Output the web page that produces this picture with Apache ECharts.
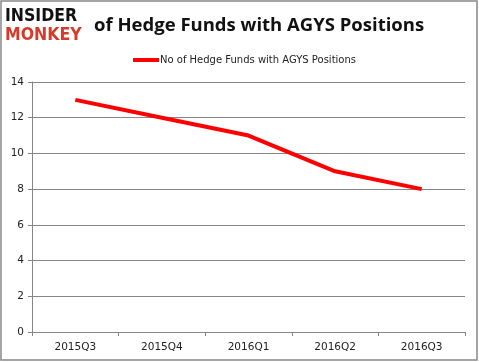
<!DOCTYPE html>
<html><head><meta charset="utf-8">
<script src="https://cdn.jsdelivr.net/npm/echarts@6/dist/echarts.min.js"></script>
<style>html,body{margin:0;padding:0;background:#fff}#c{width:479px;height:362px}</style>
</head><body><div id="c"></div>
<script>
const categories = ['2015Q3','2015Q4','2016Q1','2016Q2','2016Q3'];
const values = [13, 12, 11, 9, 8];
const seriesName = 'No of Hedge Funds with AGYS Positions';
const titleText = 'of Hedge Funds with AGYS Positions';

const chart = echarts.init(document.getElementById('c'));
chart.setOption({
  animation: false,
  backgroundColor: '#fff',
  title: {
    text: titleText, left: 89, top: 11,
    textStyle: {fontFamily: 'Open Sans', fontWeight: 'bold', fontSize: 18.5, color: '#111'}
  },
  legend: {
    data: [seriesName], left: 128, top: 50, itemWidth: 26, itemHeight: 4, itemGap: 2,
    icon: 'rect',
    textStyle: {fontFamily: 'DejaVu Sans', fontSize: 10, color: '#222', padding: [0,0,0,-4]}
  },
  grid: {left: 32, right: 14, top: 82, bottom: 30, containLabel: false},
  xAxis: {
    type: 'category', data: categories, boundaryGap: true,
    axisLine: {lineStyle: {color: '#868686'}},
    axisTick: {show: true, length: 4, lineStyle: {color: '#868686'}},
    axisLabel: {fontFamily: 'DejaVu Sans', fontSize: 10.5, color: '#222', margin: 10}
  },
  yAxis: {
    type: 'value', min: 0, max: 14, interval: 2,
    axisLine: {show: true, lineStyle: {color: '#868686'}},
    axisTick: {show: true, length: 4, lineStyle: {color: '#868686'}},
    splitLine: {lineStyle: {color: '#868686', width: 1}},
    axisLabel: {fontFamily: 'DejaVu Sans', fontSize: 10.5, color: '#222', margin: 8}
  },
  series: [{
    name: seriesName, type: 'line', data: values, symbol: 'none',
    lineStyle: {color: '#ff0000', width: 4}, itemStyle: {color: '#ff0000'}
  }],
  graphic: [
    {type: 'rect', shape: {x: 1, y: 1, width: 476, height: 359}, style: {fill: 'none', stroke: '#888', lineWidth: 1.5}, silent: true},
    {type: 'text', left: 5, top: 7, style: {text: 'INSIDER', fill: '#111', font: 'bold 17.5px "DejaVu Sans Condensed"'}},
    {type: 'text', left: 5, top: 26, style: {text: 'MONKEY', fill: '#d63a2a', font: 'bold 17.5px "DejaVu Sans Condensed"'}}
  ]
});
</script></body></html>
